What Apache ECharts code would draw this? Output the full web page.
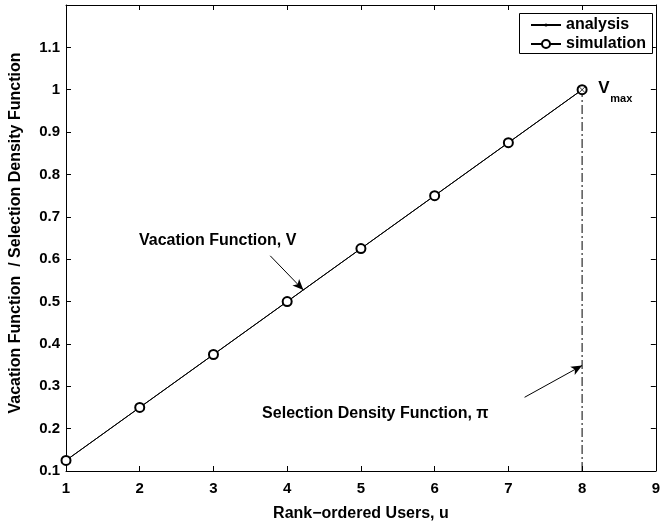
<!DOCTYPE html>
<html><head><meta charset="utf-8">
<script src="https://cdn.jsdelivr.net/npm/echarts@6/dist/echarts.min.js"></script>
<style>html,body{margin:0;padding:0;background:#fff}#c{width:663px;height:527px}</style>
</head><body><div id="c"></div>
<script>
// ---- data ----
const users = [1, 2, 3, 4, 5, 6, 7, 8];
const analysisValues = [0.125, 0.25, 0.375, 0.5, 0.625, 0.75, 0.875, 1.0];
const simulationValues = [0.125, 0.25, 0.375, 0.5, 0.625, 0.75, 0.875, 1.0];
const selectionLineX = [8, 8];
const selectionLineY = [0.1, 1.0];
const vmaxPoint = [8, 1.0];
const xTicks = [1, 2, 3, 4, 5, 6, 7, 8, 9];
const yTicks = [0.1, 0.2, 0.3, 0.4, 0.5, 0.6, 0.7, 0.8, 0.9, 1, 1.1];
// annotation arrows (data coordinates): [fromX, fromY, toX, toY]
const vacationArrow = [3.77, 0.608, 4.22, 0.527];
const selectionArrow = [7.22, 0.274, 8.0, 0.349];
// annotation text anchors (data coordinates)
const vacationLabelAt = [1.99, 0.641];
const selectionLabelAt = [3.66, 0.232];
const vmaxLabelAt = [8.22, 1.0];

const FONT = '"Liberation Sans", Arial, sans-serif';
const pairs = (xs, ys) => xs.map((x, i) => [x, ys[i]]);

const chart = echarts.init(document.getElementById('c'), null, {renderer: 'canvas'});
const axisCommon = {
  axisLine: {show: true, onZero: false, lineStyle: {color: '#000', width: 1}},
  axisTick: {show: true, inside: true, length: 5, lineStyle: {color: '#000'}},
  splitLine: {show: false}
};
const legendText = {fontFamily: FONT, fontWeight: 'bold', fontSize: 16, color: '#000'};
const option = {
  animation: false,
  backgroundColor: '#fff',
  grid: {left: 65, right: 6, top: 5, bottom: 54, containLabel: false},
  legend: [
    {
      left: 530, top: 17, z: 10, padding: 0, itemWidth: 30, itemHeight: 4,
      textStyle: legendText, data: ['analysis']
    },
    {
      left: 530, top: 36, z: 10, padding: 0, itemWidth: 30, itemHeight: 10,
      textStyle: legendText, data: ['simulation']
    }
  ],
  graphic: [
    {type: 'rect', id: 'legendBox', z: 5, shape: {x: 519.5, y: 13.5, width: 133, height: 40},
     style: {fill: '#fff', stroke: '#000', lineWidth: 1}}
  ],
  xAxis: [
    Object.assign({}, axisCommon, {
      type: 'value', min: 1, max: 9, interval: 1, position: 'bottom',
      name: 'Rank\u2212ordered Users, u', nameLocation: 'middle', nameGap: 35,
      nameTextStyle: {fontFamily: FONT, fontWeight: 'bold', fontSize: 16, color: '#000'},
      axisLabel: {fontFamily: FONT, fontWeight: 'bold', fontSize: 15, color: '#000', margin: 10,
        formatter: v => xTicks.includes(v) ? String(v) : ''}
    }),
    Object.assign({}, axisCommon, {
      type: 'value', min: 1, max: 9, interval: 1, position: 'top', axisLabel: {show: false}
    })
  ],
  yAxis: [
    Object.assign({}, axisCommon, {
      type: 'value', min: 0.1, max: 1.2, interval: 0.1, position: 'left',
      name: 'Vacation Function  / Selection Density Function', nameLocation: 'middle', nameGap: 42,
      nameTextStyle: {fontFamily: FONT, fontWeight: 'bold', fontSize: 16, color: '#000', padding: [0, 0, 0, 10]},
      axisLabel: {fontFamily: FONT, fontWeight: 'bold', fontSize: 15, color: '#000', margin: 6,
        formatter: v => { const r = Math.round(v * 10) / 10; return yTicks.includes(r) ? String(r) : ''; }}
    }),
    Object.assign({}, axisCommon, {
      type: 'value', min: 0.1, max: 1.2, interval: 0.1, position: 'right', axisLabel: {show: false}
    })
  ],
  series: [
    {
      name: 'analysis', type: 'line', data: pairs(users, analysisValues),
      symbol: 'circle', symbolSize: 3, showSymbol: true,
      itemStyle: {color: '#000'}, lineStyle: {color: '#000', width: 1}, z: 3,
      markLine: {
        silent: true, symbol: ['none', 'arrow'], symbolSize: [7, 11],
        label: {show: false},
        lineStyle: {color: '#000', width: 1, type: 'solid'},
        data: [
          [{coord: [vacationArrow[0], vacationArrow[1]]}, {coord: [vacationArrow[2], vacationArrow[3]]}],
          [{coord: [selectionArrow[0], selectionArrow[1]]}, {coord: [selectionArrow[2], selectionArrow[3]]}]
        ]
      }
    },
    {
      name: 'simulation', type: 'line', data: pairs(users, simulationValues),
      symbol: 'emptyCircle', symbolSize: 9, showSymbol: true,
      itemStyle: {color: '#000', borderColor: '#000', borderWidth: 1},
      lineStyle: {color: '#000', width: 1}, z: 4
    },
    {
      name: 'selection', type: 'line', data: pairs(selectionLineX, selectionLineY),
      symbol: 'none', lineStyle: {color: '#000', width: 1, type: [9, 3, 2, 3]}, z: 2
    },
    {
      name: 'vmax', type: 'scatter', data: [vmaxPoint],
      symbol: 'path://M0,0L10,10M10,0L0,10', symbolSize: 6,
      itemStyle: {color: 'none', borderColor: '#000', borderWidth: 1}, z: 5
    }
  ]
};
chart.setOption(option);

function place() {
  const p1 = chart.convertToPixel({gridIndex: 0}, vacationLabelAt);
  const p2 = chart.convertToPixel({gridIndex: 0}, selectionLabelAt);
  const p3 = chart.convertToPixel({gridIndex: 0}, vmaxLabelAt);
  const ts = {fontFamily: FONT, fontWeight: 'bold', fill: '#000'};
  chart.setOption({
    graphic: [
      {type: 'text', id: 't1', left: p1[0], top: p1[1] - 9, style: Object.assign({text: 'Vacation Function, V', fontSize: 16}, ts)},
      {type: 'text', id: 't2', left: p2[0], top: p2[1] - 9, style: Object.assign({text: 'Selection Density Function, \u03c0', fontSize: 16}, ts)},
      {type: 'text', id: 't3', left: p3[0], top: p3[1] - 10, style: Object.assign({text: 'V', fontSize: 17}, ts)},
      {type: 'text', id: 't4', left: p3[0] + 12, top: p3[1] + 4, style: Object.assign({text: 'max', fontSize: 11}, ts)}
    ]
  });
}
place();
</script>
</body></html>
